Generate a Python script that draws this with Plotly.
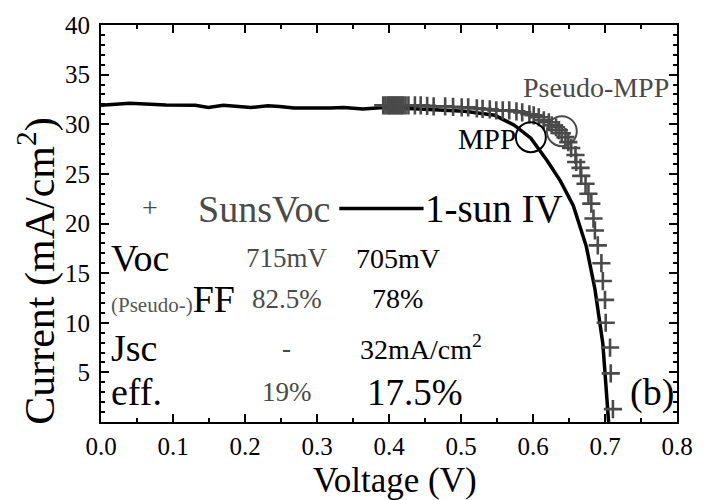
import plotly.graph_objects as go

# ---- data ----
iv_v = [0.0, 0.040, 0.090, 0.131, 0.149, 0.170, 0.208, 0.232, 0.248, 0.268, 0.318, 0.337,
        0.364, 0.392, 0.420, 0.470, 0.505, 0.547, 0.574, 0.597, 0.619, 0.638, 0.656, 0.674,
        0.686, 0.697, 0.704, 0.705]
iv_j = [31.92, 32.12, 31.95, 31.92, 31.69, 31.92, 31.69, 31.86, 31.79, 31.63, 31.63, 31.69,
        31.53, 31.69, 31.6, 31.4, 31.3, 30.9, 29.9, 28.6, 26.4, 24.3, 21.8, 17.7,
        13.4, 7.9, 0.3, 0.0]

suns_v = [0.392, 0.395, 0.398, 0.400, 0.402, 0.404, 0.406, 0.408, 0.410, 0.412, 0.414, 0.416,
          0.418, 0.420, 0.423, 0.427, 0.436, 0.444, 0.453, 0.462, 0.478, 0.489, 0.501, 0.510,
          0.522, 0.530, 0.540, 0.549, 0.558, 0.567, 0.577, 0.585, 0.595, 0.601, 0.608, 0.615,
          0.622, 0.626, 0.632, 0.636, 0.640, 0.645, 0.649, 0.653, 0.659, 0.660, 0.666, 0.667,
          0.673, 0.677, 0.681, 0.684, 0.686, 0.690, 0.695, 0.697, 0.700, 0.701, 0.707, 0.708,
          0.711]
suns_j = [31.9, 31.9, 31.9, 31.9, 31.9, 31.9, 31.9, 31.9, 31.9, 31.9, 31.9, 31.9,
          31.9, 31.9, 31.9, 31.9, 31.9, 31.9, 31.85, 31.8, 31.8, 31.75, 31.7, 31.7,
          31.6, 31.55, 31.5, 31.4, 31.4, 31.4, 31.3, 31.2, 31.0, 30.9, 30.7, 30.4,
          30.2, 29.9, 29.7, 29.4, 29.1, 28.7, 28.2, 27.6, 26.9, 26.2, 25.6, 24.8,
          24.0, 23.0, 22.0, 20.5, 19.3, 17.8, 16.0, 14.2, 12.3, 10.0, 7.5, 4.9,
          1.3]

mpp = (0.597, 28.7)
pseudo_mpp = (0.640, 29.3)

x_ticks = [0.0, 0.1, 0.2, 0.3, 0.4, 0.5, 0.6, 0.7, 0.8]
y_ticks = [5, 10, 15, 20, 25, 30, 35, 40]

row_labels = ["Voc", "<span style='font-size:21px;color:#555555'>(Pseudo-)</span>FF", "Jsc", "eff."]
suns_vals = ["715mV", "82.5%", "-", "19%"]
iv_vals = ["705mV", "78%", "32mA/cm<sup>2</sup>", "17.5%"]
row_j = [16.5, 12.4, 7.5, 3.0]

FONT = "Liberation Serif"
GRAY = "#4a4a4a"

fig = go.Figure()
fig.add_trace(go.Scatter(x=iv_v, y=iv_j, mode="lines", line=dict(color="black", width=3.5),
                         showlegend=False, cliponaxis=True))
fig.add_trace(go.Scatter(x=suns_v, y=suns_j, mode="markers",
                         marker=dict(symbol="cross-thin", size=13, line=dict(color=GRAY, width=2.6)),
                         showlegend=False))

# circles at MPP and pseudo-MPP
for (cx, cy), col in [(mpp, "black"), (pseudo_mpp, GRAY)]:
    fig.add_shape(type="circle", xref="x", yref="y", xsizemode="pixel", ysizemode="pixel",
                  xanchor=cx, yanchor=cy, x0=-15, x1=15, y0=-15, y1=15,
                  line=dict(color=col, width=2))

ann = []
ann.append(dict(x=0.688, y=33.7, text="Pseudo-MPP", font=dict(size=28, color=GRAY)))
ann.append(dict(x=0.536, y=28.5, text="MPP", font=dict(size=29, color="black")))
# legend inside
ann.append(dict(x=0.068, y=21.6, text="+", font=dict(size=28, color=GRAY)))
ann.append(dict(x=0.226, y=21.5, text="SunsVoc", font=dict(size=38, color=GRAY)))
ann.append(dict(x=0.447, y=21.5, text="1-sun IV", xanchor="left", font=dict(size=39, color="black")))
# table
for lab, sv, iv, yj in zip(row_labels, suns_vals, iv_vals, row_j):
    ann.append(dict(x=0.011, y=yj, text=lab, xanchor="left", font=dict(size=38, color="black")))
    ann.append(dict(x=0.258, y=yj, text=sv, font=dict(size=27, color=GRAY)))
    if iv == "17.5%":
        size, xc = 37, 0.436
    elif iv.startswith("32mA"):
        size, xc = 28, 0.444
    else:
        size, xc = 28, 0.412
    ann.append(dict(x=xc, y=yj, text=iv, font=dict(size=size, color="black")))
ann.append(dict(x=0.765, y=3.0, text="(b)", font=dict(size=38, color="black")))
for a in ann:
    a.update(xref="x", yref="y", showarrow=False)
    a.setdefault("xanchor", "center")
    a["yanchor"] = "middle"
    a["font"]["family"] = FONT
    fig.add_annotation(**a)

# axis titles
fig.add_annotation(xref="paper", yref="paper", x=-0.11, y=0.38, text="Current (mA/cm<sup>2</sup>)",
                   textangle=-90, showarrow=False, xanchor="center", yanchor="middle",
                   font=dict(family=FONT, size=42, color="black"))
fig.add_annotation(xref="paper", yref="paper", x=0.51, y=-0.148, text="Voltage (V)",
                   showarrow=False, xanchor="center", yanchor="middle",
                   font=dict(family=FONT, size=35, color="black"))

fig.add_shape(type="line", xref="x", yref="y", x0=0.331, x1=0.448, y0=21.5, y1=21.5,
              line=dict(color="black", width=3.5))

axis_common = dict(showline=True, linecolor="black", linewidth=2, mirror="allticks",
                   ticks="inside", ticklen=8, tickwidth=1.5, tickcolor="black",
                   showgrid=False, zeroline=False,
                   tickfont=dict(family=FONT, size=25, color="black"))
fig.update_xaxes(range=[0, 0.8], tickvals=x_ticks, ticktext=[f"{v:.1f}" for v in x_ticks],
                 minor=dict(dtick=0.05, ticks="inside", ticklen=4, tickcolor="black", tickwidth=1.5),
                 ticklabelstandoff=1, **axis_common)
fig.update_yaxes(range=[0, 40], tickvals=y_ticks, ticktext=[str(v) for v in y_ticks],
                 minor=dict(dtick=1, ticks="inside", ticklen=4, tickcolor="black", tickwidth=1.5),
                 ticklabelstandoff=4, **axis_common)
fig.update_layout(width=705, height=500, margin=dict(l=101, r=20, t=18, b=78),
                  plot_bgcolor="white", paper_bgcolor="white", showlegend=False,
                  font=dict(family=FONT))

fig.write_html("out.html")
